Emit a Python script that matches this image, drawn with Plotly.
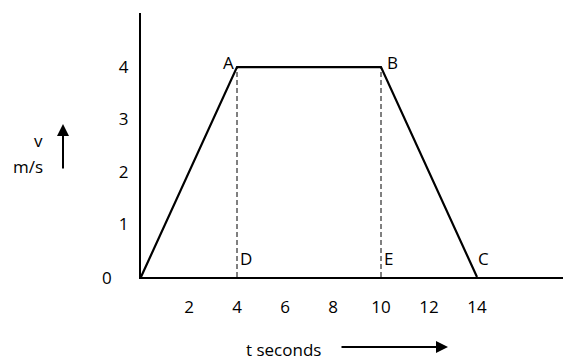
import plotly.graph_objects as go

# velocity-time graph
t_points = [0, 4, 10, 14]
v_points = [0, 4, 4, 0]
point_names = ["", "A", "B", "C"]
foot_names = ["D", "E"]          # feet of the dashed drops from A and B
x_ticks = [2, 4, 6, 8, 10, 12, 14]
y_ticks = [1, 2, 3, 4]

FONT = "Open Sans"
W, H = 563, 360
L, R, T, B = 141, 0, 13, 83
PW, PH = W - L - R, H - T - B


def px(x):
    return (x - L) / PW


def py(y):
    return (H - B - y) / PH


fig = go.Figure()

# dashed drops A->D, B->E
for i in (1, 2):
    fig.add_trace(go.Scatter(
        x=[t_points[i], t_points[i]], y=[0, v_points[i]],
        mode="lines", line=dict(color="black", width=1, dash="5px,3px"),
        hoverinfo="none", showlegend=False))

fig.add_trace(go.Scatter(
    x=t_points, y=v_points, mode="lines",
    line=dict(color="black", width=2.2),
    hoverinfo="none", showlegend=False))

ann = []
# vertex labels
ann.append(dict(x=t_points[1], y=v_points[1], text=point_names[1], xanchor="right",
                yanchor="middle", xshift=-1, yshift=5, showarrow=False))
ann.append(dict(x=t_points[2], y=v_points[2], text=point_names[2], xanchor="left",
                yanchor="middle", xshift=4, yshift=5, showarrow=False))
ann.append(dict(x=t_points[3], y=v_points[3], text=point_names[3], xanchor="left",
                yanchor="middle", xshift=-1, yshift=19, showarrow=False))
for i, name in zip((1, 2), foot_names):
    ann.append(dict(x=t_points[i], y=0, text=name, xanchor="left",
                    yanchor="middle", xshift=1, yshift=19, showarrow=False))
# origin label
ann.append(dict(x=0, y=0, text="0", xanchor="center", yanchor="middle",
                xshift=-34, yshift=0, showarrow=False))

# axis titles
ann.append(dict(xref="paper", yref="paper", x=px(38), y=py(140), text="v",
                showarrow=False, xanchor="center", yanchor="middle"))
ann.append(dict(xref="paper", yref="paper", x=px(28), y=py(167), text="m/s",
                showarrow=False, xanchor="center", yanchor="middle"))
ann.append(dict(xref="paper", yref="paper", x=px(63), y=py(124), text="",
                showarrow=True, ax=0, ay=46, arrowhead=2, arrowsize=1.2,
                arrowwidth=2, arrowcolor="black"))
ann.append(dict(xref="paper", yref="paper", x=px(283), y=py(349), text="t seconds",
                showarrow=False, xanchor="center", yanchor="middle"))
ann.append(dict(xref="paper", yref="paper", x=px(448), y=py(347), text="",
                showarrow=True, ax=-108, ay=0, arrowhead=2, arrowsize=1.2,
                arrowwidth=2, arrowcolor="black"))

fig.update_layout(
    width=W, height=H,
    margin=dict(l=L, r=R, t=T, b=B, pad=0),
    paper_bgcolor="white", plot_bgcolor="white",
    font=dict(family=FONT, size=17, color="black"),
    annotations=ann,
    showlegend=False,
)
fig.update_xaxes(
    range=[0, PW / 24.0], showgrid=False, zeroline=False,
    showline=True, linecolor="black", linewidth=2,
    tickmode="array", tickvals=x_ticks, ticktext=[str(v) for v in x_ticks],
    ticks="", ticklabelstandoff=14, fixedrange=True,
)
fig.update_yaxes(
    range=[0, 5.03], showgrid=False, zeroline=False,
    showline=True, linecolor="black", linewidth=2,
    tickmode="array", tickvals=y_ticks, ticktext=[str(v) for v in y_ticks],
    ticks="", ticklabelstandoff=7, fixedrange=True,
)

fig.write_html("out.html", config={"displayModeBar": False},
               post_script="document.body.style.margin='0';document.body.style.overflow='hidden';")
